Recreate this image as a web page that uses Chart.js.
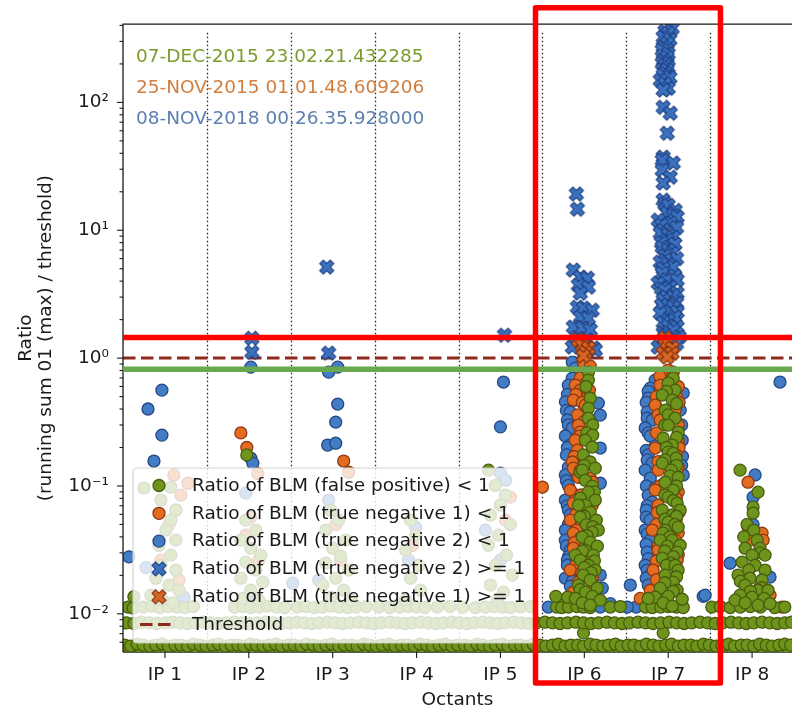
<!DOCTYPE html>
<html>
<head>
<meta charset="utf-8">
<title>BLM ratio per octant</title>
<script src="https://cdn.jsdelivr.net/npm/chart.js@4.4.1/dist/chart.umd.min.js"></script>
<style>
  html, body { margin: 0; padding: 0; background: #fff; }
  #chartParent { width: 792px; height: 710px; overflow: hidden; }
</style>
</head>
<body>
<div id="chartParent"><canvas id="chart1" width="792" height="710"></canvas></div>
<script>
// axes
const xRange = [0, 7.976];
const yRange = [0.00503, 409];
const xTickValues = [0.5, 1.5, 2.5, 3.5, 4.5, 5.5, 6.5, 7.5];
const xTickLabels = ['IP 1', 'IP 2', 'IP 3', 'IP 4', 'IP 5', 'IP 6', 'IP 7', 'IP 8'];
const octantEdges = [1, 2, 3, 4, 5, 6, 7];
const yMajorTicks = [0.01, 0.1, 1, 10, 100];
const yTickLabels = ['10⁻²', '10⁻¹', '10⁰', '10¹', '10²'];
const yMinorTicks = [0.006, 0.007, 0.008, 0.009,
    0.02, 0.03, 0.04, 0.05, 0.06, 0.07, 0.08, 0.09,
    0.2, 0.3, 0.4, 0.5, 0.6, 0.7, 0.8, 0.9,
    2, 3, 4, 5, 6, 7, 8, 9,
    20, 30, 40, 50, 60, 70, 80, 90,
    200, 300, 400];
const thresholdValue = 1;
const eventLabels = ['07-DEC-2015 23.02.21.432285', '25-NOV-2015 01.01.48.609206', '08-NOV-2018 00.26.35.928000'];
const seriesLabels = ['Ratio of BLM (false positive) < 1', 'Ratio of BLM (true negative 1) < 1',
    'Ratio of BLM (true negative 2) < 1', 'Ratio of BLM (true negative 2) >= 1',
    'Ratio of BLM (true negative 1) >= 1', 'Threshold'];

// false positive < 1 (green)
const fpFloorRow = [[0.02,.0057],[0.09,.0056],[0.17,.0058],[0.24,.0057],[0.32,.0056],[0.39,.0057],[0.47,.0058],[0.54,.0056],[0.62,.0057],[0.69,.0057],[0.77,.0056],[0.84,.0058],[0.92,.0057],[0.99,.0056],[1.07,.0057],[1.14,.0058],[1.22,.0056],[1.29,.0057],[1.37,.0057],[1.44,.0056],[1.52,.0058],[1.59,.0057],[1.67,.0056],[1.74,.0057],[1.82,.0058],[1.89,.0056],[1.97,.0057],[2.04,.0057],[2.12,.0056],[2.19,.0058],[2.27,.0057],[2.34,.0056],[2.42,.0057],[2.49,.0058],[2.57,.0056],[2.64,.0057],[2.72,.0057],[2.79,.0056],[2.87,.0058],[2.94,.0057],[3.02,.0056],[3.09,.0057],[3.17,.0058],[3.24,.0056],[3.32,.0057],[3.39,.0057],[3.47,.0056],[3.54,.0058],[3.62,.0057],[3.69,.0056],[3.77,.0057],[3.84,.0058],[3.92,.0056],[3.99,.0057],[4.07,.0057],[4.14,.0056],[4.22,.0058],[4.29,.0057],[4.37,.0056],[4.44,.0057],[4.52,.0058],[4.59,.0056],[4.67,.0057],[4.74,.0057],[4.82,.0056],[4.89,.0058],[4.97,.0057],[5.04,.0056],[5.12,.0057],[5.19,.0058],[5.27,.0056],[5.34,.0057],[5.42,.0057],[5.49,.0056],[5.57,.0058],[5.64,.0057],[5.72,.0056],[5.79,.0057],[5.87,.0058],[5.94,.0056],[6.02,.0057],[6.09,.0057],[6.17,.0056],[6.24,.0058],[6.32,.0057],[6.39,.0056],[6.47,.0057],[6.54,.0058],[6.62,.0056],[6.69,.0057],[6.77,.0057],[6.84,.0056],[6.92,.0058],[6.99,.0057],[7.07,.0056],[7.14,.0057],[7.22,.0058],[7.29,.0056],[7.37,.0057],[7.44,.0057],[7.52,.0056],[7.59,.0058],[7.67,.0057],[7.74,.0056],[7.82,.0057],[7.89,.0058],[7.96,.0057],
    [5.49,.0071],[6.44,.0071]];
const fpFloorRow2 = [[0.05,.0055],[0.13,.0054],[0.2,.0055],[0.28,.0054],[0.35,.0055],[0.43,.0054],[0.5,.0055],[0.58,.0054],[0.65,.0055],[0.73,.0054],[0.8,.0055],[0.88,.0054],[0.95,.0055],[1.03,.0054],[1.1,.0055],[1.18,.0054],[1.25,.0055],[1.33,.0054],[1.4,.0055],[1.48,.0054],[1.55,.0055],[1.63,.0054],[1.7,.0055],[1.78,.0054],[1.85,.0055],[1.93,.0054],[2.0,.0055],[2.08,.0054],[2.15,.0055],[2.23,.0054],[2.3,.0055],[2.38,.0054],[2.45,.0055],[2.53,.0054],[2.6,.0055],[2.68,.0054],[2.75,.0055],[2.83,.0054],[2.9,.0055],[2.98,.0054],[3.05,.0055],[3.13,.0054],[3.2,.0055],[3.28,.0054],[3.35,.0055],[3.43,.0054],[3.5,.0055],[3.58,.0054],[3.65,.0055],[3.73,.0054],[3.8,.0055],[3.88,.0054],[3.95,.0055],[4.03,.0054],[4.1,.0055],[4.18,.0054],[4.25,.0055],[4.33,.0054],[4.4,.0055],[4.48,.0054],[4.55,.0055],[4.63,.0054],[4.7,.0055],[4.78,.0054],[4.85,.0055],[4.93,.0054],[5.0,.0055],[5.08,.0054],[5.15,.0055],[5.23,.0054],[5.3,.0055],[5.38,.0054],[5.45,.0055],[5.53,.0054],[5.6,.0055],[5.68,.0054],[5.75,.0055],[5.83,.0054],[5.9,.0055],[5.98,.0054],[6.05,.0055],[6.13,.0054],[6.2,.0055],[6.28,.0054],[6.35,.0055],[6.43,.0054],[6.5,.0055],[6.58,.0054],[6.65,.0055],[6.73,.0054],[6.8,.0055],[6.88,.0054],[6.95,.0055],[7.03,.0054],[7.1,.0055],[7.18,.0054],[7.25,.0055],[7.33,.0054],[7.4,.0055],[7.48,.0054],[7.55,.0055],[7.63,.0054],[7.7,.0055],[7.78,.0054],[7.85,.0055],[7.93,.0054]];
const fpLowRow = [[0.04,.0085],[0.13,.0084],[0.22,.0086],[0.31,.0085],[0.4,.0084],[0.5,.0085],[0.59,.0086],[0.68,.0085],[0.77,.0084],[0.86,.0085],[0.96,.0086],[1.05,.0085],[1.14,.0084],[1.23,.0085],[1.33,.0086],[1.42,.0085],[1.51,.0084],[1.6,.0085],[1.7,.0086],[1.79,.0085],[1.88,.0084],[1.97,.0085],[2.07,.0086],[2.16,.0085],[2.25,.0084],[2.34,.0085],[2.44,.0086],[2.53,.0085],[2.62,.0084],[2.71,.0085],[2.81,.0086],[2.9,.0085],[2.99,.0084],[3.08,.0085],[3.18,.0086],[3.27,.0085],[3.36,.0084],[3.45,.0085],[3.55,.0086],[3.64,.0085],[3.73,.0084],[3.82,.0085],[3.92,.0086],[4.01,.0085],[4.1,.0084],[4.19,.0085],[4.29,.0086],[4.38,.0085],[4.47,.0084],[4.56,.0085],[4.66,.0086],[4.75,.0085],[4.84,.0084],[4.93,.0085],[5.03,.0086],[5.12,.0085],[5.21,.0084],[5.3,.0085],[5.4,.0086],[5.49,.0085],[5.58,.0084],[5.67,.0085],[5.77,.0086],[5.86,.0085],[5.95,.0084],[6.04,.0085],[6.14,.0086],[6.23,.0085],[6.32,.0084],[6.41,.0085],[6.51,.0086],[6.6,.0085],[6.69,.0084],[6.78,.0085],[6.88,.0086],[6.97,.0085],[7.06,.0084],[7.15,.0085],[7.25,.0086],[7.34,.0085],[7.43,.0084],[7.52,.0085],[7.62,.0086],[7.71,.0085],[7.8,.0084],[7.89,.0085],[7.97,.0086]];
const fpMidRow = [[0.06,.0113],[0.12,.0111],[0.13,.0136],[0.24,.0113],[0.34,.0115],[0.44,.0112],[0.54,.0114],[0.64,.0113],[0.74,.0112],[0.84,.0114],
    [1.33,.0113],[1.43,.0114],[1.52,.0112],[1.62,.0113],[1.72,.0115],[1.83,.0113],[1.93,.0112],[2.08,.0113],[2.18,.0114],[2.28,.0112],[2.38,.0113],[2.48,.0115],[2.58,.0113],[2.68,.0112],[2.78,.0113],[2.9,.0114],[3.05,.0113],[3.18,.0112],[3.3,.0113],[3.4,.0114],[3.5,.0113],[3.6,.0112],[3.75,.0113],[3.9,.0114],[4.05,.0113],[4.2,.0112],[4.32,.0113],[4.42,.0114],[4.52,.0113],[4.62,.0112],[4.74,.0113],[4.86,.0114],
    [5.17,.0113],[5.23,.0112],[5.31,.0113],[5.41,.0114],[5.49,.0113],[5.57,.0112],[5.81,.0113],[5.93,.0114],[6.23,.0113],[6.31,.0112],[6.41,.0113],[6.5,.0114],[6.6,.0113],[6.68,.0112],
    [7.02,.0113],[7.12,.0114],[7.24,.0112],[7.36,.0113],[7.48,.0114],[7.6,.0113],[7.77,.0112],[7.89,.0113],
    [5.16,.0137],[5.3,.0135],[5.43,.0137],[5.63,.0135]];
const fpClusters = [
    // IP 1 - IP 5
    [0.25,.0963],[0.571,.0981],[0.452,.0776],[0.631,.0648],[0.571,.0541],[0.512,.0452],[0.631,.0377],[0.429,.0344],[0.571,.0288],[0.452,.024],[0.631,.022],[0.393,.019],[0.548,.0168],[0.667,.0153],[0.333,.014],[0.476,.0128],[0.595,.0122],
    [1.476,.175],[1.464,.0541],[1.583,.0452],[1.405,.0377],[1.524,.0326],[1.643,.0288],[1.464,.0254],[1.583,.022],[1.405,.019],[1.667,.0177],[1.524,.0153],[1.43,.0132],[1.619,.0128],
    [2.476,.0648],[2.571,.0541],[2.417,.0452],[2.655,.0377],[2.5,.0326],[2.595,.0283],[2.417,.0249],[2.69,.022],[2.536,.019],[2.381,.0168],[2.631,.0153],[2.476,.0135],[2.714,.0128],
    [3.429,.0541],[3.488,.0413],[3.369,.0315],[3.524,.024],[3.429,.019],[3.548,.0153],[3.369,.0128],
    [4.357,.133],[4.44,.101],[4.56,.0848],[4.5,.0709],[4.381,.0593],[4.619,.0499],[4.476,.0413],[4.357,.0344],[4.571,.0288],[4.44,.024],[4.643,.0201],[4.381,.0168],[4.536,.0148],[4.464,.0128],
    // IP 6
    [5.548,.777],[5.548,.673],[5.52,.6],[5.571,.487],[5.548,.407],[5.548,.339],[5.6,.3],[5.53,.26],[5.6,.25],[5.512,.228],[5.595,.2015],[5.488,.175],[5.571,.154],[5.5,.145],[5.631,.138],[5.452,.128],[5.476,.133],[5.512,.111],[5.595,.0998],[5.62,.09],[5.548,.0895],[5.452,.0803],[5.631,.0776],[5.512,.0709],[5.429,.0709],[5.571,.0625],[5.5,.058],[5.452,.0572],[5.643,.0541],[5.524,.0499],[5.6,.048],[5.667,.0452],[5.595,.0436],[5.53,.041],[5.476,.0398],[5.571,.0364],[5.655,.0338],[5.512,.0315],[5.48,.031],[5.607,.0288],[5.393,.0288],[5.452,.0263],[5.62,.026],[5.548,.024],[5.5,.023],[5.631,.022],[5.58,.021],[5.488,.0201],[5.571,.0184],[5.429,.0168],[5.655,.0159],[5.45,.0155],[5.512,.0148],[5.595,.0137],[5.393,.0132],[5.69,.0128],[5.476,.0122],[5.571,.0117],
    // IP 7
    [6.56,.7],[6.5,.638],[6.583,.562],[6.48,.55],[6.429,.514],[6.548,.47],[6.6,.44],[6.464,.392],[6.5,.36],[6.583,.339],[6.46,.3],[6.5,.299],[6.619,.264],[6.6,.24],[6.44,.237],[6.548,.209],[6.48,.2],[6.5,.184],[6.56,.18],[6.595,.165],[6.46,.16],[6.429,.151],[6.6,.145],[6.536,.133],[6.52,.12],[6.619,.117],[6.464,.107],[6.6,.1],[6.56,.0929],[6.46,.085],[6.5,.0818],[6.56,.077],[6.607,.0735],[6.429,.0648],[6.643,.0648],[6.548,.0593],[6.6,.058],[6.46,.055],[6.5,.0522],[6.58,.05],[6.619,.0477],[6.464,.0452],[6.44,.0428],[6.52,.04],[6.548,.0377],[6.405,.0377],[6.643,.0344],[6.488,.0338],[6.46,.031],[6.607,.0304],[6.56,.028],[6.429,.0273],[6.536,.0249],[6.48,.024],[6.583,.024],[6.619,.022],[6.464,.0201],[6.6,.0195],[6.56,.0177],[6.46,.0175],[6.405,.0159],[6.607,.0153],[6.56,.015],[6.5,.0137],[6.345,.0135],[6.262,.0132],[6.667,.013],[6.44,.0122],[6.548,.0115],
    // IP 8
    [7.357,.133],[7.571,.0895],[7.512,.0684],[7.512,.0614],[7.44,.05],[7.52,.045],[7.4,.04],[7.56,.0377],[7.417,.0326],[7.595,.0326],[7.6,.03],[7.5,.0288],[7.655,.0288],[7.381,.0254],[7.536,.024],[7.46,.022],[7.655,.022],[7.333,.0201],[7.476,.019],[7.619,.0184],[7.36,.018],[7.417,.0168],[7.62,.016],[7.571,.0153],[7.69,.0153],[7.48,.015],[7.357,.014],[7.5,.0135],[7.643,.0132],[7.298,.0128],[7.417,.0122],[7.571,.0117],[7.714,.012]];

// true negative 1 < 1 (orange)
const tn1Below = [
    [0.607,.122],[0.774,.105],[0.69,.0848],[0.548,.0499],[0.452,.0263],[0.667,.0184],
    [1.405,.26],[1.476,.2],[1.607,.125],[1.524,.0572],[1.464,.0413],[1.619,.0263],
    [2.631,.1566],[2.69,.128],[2.536,.0499],[2.595,.0263],
    [3.452,.0344],[4.619,.0818],[4.56,.0541],[5.0,.0981],
    [5.488,.93],[5.571,.866],[5.452,.7],[5.5,.62],[5.393,.615],[5.452,.562],[5.548,.514],[5.56,.56],[5.4,.52],[5.369,.47],[5.476,.45],[5.512,.429],[5.42,.36],[5.5,.32],[5.429,.299],[5.452,.264],[5.44,.245],[5.393,.228],[5.417,.191],[5.38,.17],[5.357,.154],[5.369,.138],[5.452,.133],[5.43,.117],[5.571,.115],[5.595,.107],[5.333,.0929],[5.46,.085],[5.393,.0776],[5.369,.0735],[5.595,.0709],[5.4,.06],[5.333,.0541],[5.45,.048],[5.405,.0452],[5.369,.0428],[5.452,.0391],[5.38,.036],[5.369,.0326],[5.46,.03],[5.571,.0263],[5.4,.024],[5.333,.022],[5.47,.021],[5.595,.019],[5.429,.0177],[5.595,.0159],[5.369,.0148],[5.512,.0132],[5.274,.0128],
    [6.5,.806],[6.56,.777],[6.4,.72],[6.548,.698],[6.405,.615],[6.62,.6],[6.595,.514],[6.36,.5],[6.63,.45],[6.345,.429],[6.583,.392],[6.38,.36],[6.405,.328],[6.62,.3],[6.36,.26],[6.619,.228],[6.63,.2],[6.345,.198],[6.595,.175],[6.38,.155],[6.62,.14],[6.381,.133],[6.524,.111],[6.4,.1],[6.345,.0929],[6.62,.09],[6.595,.0803],[6.381,.0709],[6.37,.062],[6.63,.062],[6.595,.0541],[6.36,.05],[6.31,.0452],[6.62,.043],[6.583,.0377],[6.38,.034],[6.381,.0315],[6.62,.029],[6.607,.0263],[6.36,.026],[6.6,.023],[6.321,.022],[6.571,.019],[6.36,.0185],[6.286,.0153],[6.405,.0135],[6.167,.0132],
    [7.452,.107],[7.452,.0477],[7.619,.0428],[7.476,.0377],[7.631,.0377],[7.595,.0162],[7.714,.014],[7.857,.0113]];

// true negative 2 < 1 (blue)
const tn2Below = [
    [0.464,.562],[0.298,.4],[0.464,.25],[0.369,.1566],[0.071,.0279],[0.631,.0648],[0.274,.023],[0.726,.0135],
    [1.524,.85],[1.524,.165],[1.548,.151],[1.464,.0879],[1.548,.0128],[2.024,.0174],
    [2.452,.777],[2.56,.85],[2.56,.437],[2.536,.316],[2.44,.209],[2.536,.216],[2.452,.0776],[2.333,.0184],
    [3.488,.0477],[3.405,.0263],
    [4.536,.65],[4.5,.29],[4.5,.126],[4.56,.111],[4.321,.0452],[4.5,.0263],
    [5.357,.93],[5.393,.835],[5.357,.698],[5.31,.615],[5.298,.52],[5.393,.47],[5.274,.455],[5.286,.39],[5.333,.378],[5.667,.445],[5.69,.358],[5.298,.328],[5.31,.3],[5.357,.284],[5.274,.246],[5.69,.198],[5.333,.209],[5.298,.2],[5.286,.175],[5.393,.146],[5.31,.14],[5.274,.122],[5.286,.11],[5.31,.101],[5.69,.105],[5.357,.0879],[5.274,.0776],[5.298,.07],[5.31,.0648],[5.333,.0593],[5.393,.0522],[5.31,.05],[5.274,.0452],[5.274,.0377],[5.286,.034],[5.333,.0315],[5.31,.028],[5.298,.0263],[5.298,.024],[5.357,.022],[5.274,.019],[5.357,.018],[5.333,.0165],[5.69,.0201],[5.714,.0159],[5.071,.0113],[5.69,.0113],[5.81,.012],
    [6.345,.673],[6.405,.698],[6.286,.583],[6.262,.55],[6.679,.533],[6.262,.487],[6.238,.45],[6.345,.429],[6.25,.378],[6.643,.392],[6.25,.34],[6.31,.328],[6.66,.3],[6.226,.284],[6.262,.26],[6.286,.246],[6.667,.228],[6.345,.205],[6.238,.19],[6.262,.175],[6.67,.17],[6.25,.16],[6.31,.151],[6.66,.145],[6.226,.133],[6.286,.115],[6.679,.122],[6.24,.1],[6.345,.0963],[6.262,.0848],[6.31,.0748],[6.25,.07],[6.238,.0648],[6.238,.057],[6.286,.0541],[6.226,.0452],[6.25,.042],[6.286,.0377],[6.238,.035],[6.25,.0304],[6.262,.027],[6.226,.024],[6.25,.022],[6.286,.0201],[6.238,.019],[6.262,.0168],[6.048,.0168],[6.119,.0113],[6.012,.0113],[6.917,.0137],
    [7.833,.65],[7.536,.122],[7.512,.0818],[7.512,.0499],[7.238,.0249],[7.714,.0194],[6.94,.014],[7.417,.0135],[7.333,.0128]];

// true negative 2 >= 1 (blue crosses)
const tn2Above = [
    [1.536,1.43],[1.536,1.11],[2.429,5.15],[2.452,1.094],[4.548,1.51],
    [5.405,19.2],[5.417,14.6],[5.369,4.88],[5.452,4.3],[5.536,4.22],[5.429,3.72],[5.548,3.59],[5.452,3.22],[5.417,2.5],[5.488,2.46],[5.595,2.37],[5.452,2.09],[5.548,2.05],[5.369,1.75],[5.476,1.72],[5.571,1.66],[5.417,1.43],[5.536,1.38],[5.393,1.31],[5.357,1.22],[5.607,1.2],[5.488,1.155],[5.631,1.155],
    [6.548,380],[6.46,360],[6.5,348],[6.44,324],[6.52,310],[6.488,290],[6.44,270],[6.429,256],[6.5,240],[6.488,225],[6.44,212],[6.429,202],[6.464,195],[6.5,188],[6.488,179],[6.46,170],[6.44,163],[6.52,156],[6.405,149],[6.46,140],[6.5,129],[6.44,125],[6.44,91.6],[6.524,82.3],[6.488,57.4],[6.44,37.3],[6.429,35.3],[6.56,33.5],[6.429,29.5],[6.524,26],[6.44,23.4],[6.44,17.2],[6.46,16],[6.5,15.7],[6.583,14.3],[6.488,13.6],[6.56,13],[6.607,12.7],[6.381,12],[6.524,11.4],[6.42,11],[6.6,10.5],[6.44,10],[6.405,9.49],[6.5,9.2],[6.56,8.84],[6.488,8.37],[6.42,8],[6.58,7.8],[6.429,7.38],[6.5,6.99],[6.548,6.62],[6.46,6.3],[6.6,6],[6.464,5.84],[6.405,5.63],[6.5,5.4],[6.56,5.15],[6.44,5],[6.429,4.62],[6.58,4.4],[6.48,4.1],[6.607,4.07],[6.381,3.86],[6.524,3.59],[6.42,3.5],[6.464,3.4],[6.607,3.22],[6.56,3.1],[6.48,3],[6.44,2.84],[6.6,2.7],[6.42,2.6],[6.5,2.6],[6.56,2.5],[6.52,2.3],[6.607,2.29],[6.405,2.25],[6.58,2.1],[6.5,1.98],[6.44,1.9],[6.5,1.78],[6.607,1.75],[6.56,1.65],[6.44,1.57],[6.46,1.5],[6.631,1.46],[6.548,1.38],[6.42,1.35],[6.6,1.3],[6.381,1.22]];

// true negative 1 >= 1 (orange crosses)
const tn1Above = [[5.429,1.38],[5.476,1.26],[5.548,1.2],[5.512,1.11],[5.488,1.04],
    [6.464,1.43],[6.488,1.33],[6.548,1.2],[6.44,1.094],[6.548,1.094],[6.488,1.018]];

// highlight overlays drawn on top of the figure
const highlightBox = { x: [4.918, 7.123], y: [0.00288, 550] };
const highlightRed = 1.45;
const highlightGreen = 0.82;

const FONT = "'DejaVu Sans', 'Liberation Sans', sans-serif";
const colors = {
    green: 'rgb(110,148,28)', greenEdge: 'rgb(72,94,14)',
    orange: 'rgb(226,108,32)', orangeEdge: 'rgb(145,55,18)',
    blue: 'rgb(66,124,196)', blueEdge: 'rgb(38,72,132)',
    threshold: 'rgb(140,42,30)'
};

function crossMarker(fill, edge) {
    const c = document.createElement('canvas');
    c.width = 18; c.height = 18;
    const g = c.getContext('2d');
    g.translate(9, 9);
    g.rotate(Math.PI / 4);
    const L = 7.4, w = 2.5;
    g.beginPath();
    g.moveTo(-w, -L); g.lineTo(w, -L); g.lineTo(w, -w); g.lineTo(L, -w); g.lineTo(L, w); g.lineTo(w, w);
    g.lineTo(w, L); g.lineTo(-w, L); g.lineTo(-w, w); g.lineTo(-L, w); g.lineTo(-L, -w); g.lineTo(-w, -w);
    g.closePath();
    g.fillStyle = fill; g.fill();
    g.lineWidth = 1.1; g.strokeStyle = edge; g.stroke();
    return c;
}
const blueCross = crossMarker('rgb(58,114,192)', 'rgb(34,66,130)');
const orangeCross = crossMarker('rgb(214,102,34)', 'rgb(135,48,18)');

const toXY = arr => arr.map(([x, y]) => ({ x, y }));

function circleSet(label, data, fill, edge, order) {
    return {
        label, data: toXY(data), order,
        pointStyle: 'circle', pointRadius: 6, pointHoverRadius: 6,
        pointBackgroundColor: fill, pointBorderColor: edge, pointBorderWidth: 1.3
    };
}
function crossSet(label, data, marker, order) {
    return { label, data: toXY(data), order, pointStyle: marker, pointRadius: 7, pointHoverRadius: 7 };
}

const datasets = [
    circleSet(seriesLabels[0], [...fpFloorRow2, ...fpFloorRow, ...fpLowRow, ...fpMidRow, ...fpClusters], colors.green, colors.greenEdge, 2),
    circleSet(seriesLabels[1], tn1Below, colors.orange, colors.orangeEdge, 3),
    circleSet(seriesLabels[2], tn2Below, colors.blue, colors.blueEdge, 4),
    crossSet(seriesLabels[3], tn2Above, blueCross, 1),
    crossSet(seriesLabels[4], tn1Above, orangeCross, 0),
    {
        type: 'line', label: seriesLabels[5], order: 5, showLine: true,
        data: [{ x: xRange[0], y: thresholdValue }, { x: xRange[1], y: thresholdValue }],
        borderColor: colors.threshold, borderWidth: 3, borderDash: [12.5, 5.5], pointRadius: 0, fill: false
    }
];

// frame, ticks, separators, date labels, legend, highlight overlays
const decorations = {
    id: 'decorations',
    beforeDatasetsDraw(chart) {
        const { ctx, chartArea: a, scales: { x, y } } = chart;
        ctx.save();
        ctx.strokeStyle = '#222';
        ctx.lineWidth = 1.3;
        ctx.setLineDash([1.4, 2.6]);
        const top = y.getPixelForValue(350);
        octantEdges.forEach(e => {
            const px = Math.round(x.getPixelForValue(e)) + 0.5;
            ctx.beginPath(); ctx.moveTo(px, top); ctx.lineTo(px, a.bottom); ctx.stroke();
        });
        ctx.setLineDash([]);
        ctx.beginPath(); ctx.moveTo(a.left, a.bottom); ctx.lineTo(a.right, a.bottom); ctx.stroke();
        ctx.restore();
    },
    afterDatasetsDraw(chart) {
        const { ctx, chartArea: a, scales: { x, y } } = chart;
        ctx.save();
        // spines
        ctx.strokeStyle = '#1a1a1a';
        ctx.lineWidth = 1.3;
        ctx.beginPath();
        ctx.moveTo(a.left, a.bottom); ctx.lineTo(a.left, a.top); ctx.lineTo(a.right, a.top);
        ctx.stroke();
        // ticks
        ctx.lineWidth = 1.1;
        y.ticks.forEach(t => {
            const py = y.getPixelForValue(t.value);
            const len = yMajorTicks.includes(t.value) ? 6 : 3.5;
            ctx.beginPath(); ctx.moveTo(a.left, py); ctx.lineTo(a.left - len, py); ctx.stroke();
        });
        xTickValues.forEach(v => {
            const px = x.getPixelForValue(v);
            ctx.beginPath(); ctx.moveTo(px, a.bottom); ctx.lineTo(px, a.bottom + 6); ctx.stroke();
        });
        // event labels
        ctx.font = '18.5px ' + FONT;
        ctx.textBaseline = 'middle';
        ctx.textAlign = 'left';
        const eventColors = ['rgb(124,156,44)', 'rgb(210,126,62)', 'rgb(92,128,176)'];
        eventLabels.forEach((txt, i) => {
            ctx.fillStyle = eventColors[i];
            ctx.fillText(txt, a.left + 13, a.top + 33.5 + i * 31);
        });
        // legend
        const bx = a.left + 10, by = a.bottom - 184, bw = 402, bh = 175;
        ctx.beginPath();
        ctx.roundRect(bx, by, bw, bh, 4);
        ctx.fillStyle = 'rgba(255,255,255,0.8)';
        ctx.fill();
        ctx.strokeStyle = 'rgba(205,205,205,0.9)';
        ctx.lineWidth = 1.2;
        ctx.stroke();
        const mx = bx + 26, tx = bx + 59;
        datasets.forEach((ds, i) => {
            const cy = by + 17.5 + i * 27.8;
            if (ds.type === 'line') {
                ctx.strokeStyle = ds.borderColor;
                ctx.lineWidth = 3;
                ctx.setLineDash([12.5, 5.5]);
                ctx.beginPath(); ctx.moveTo(mx - 19, cy); ctx.lineTo(mx + 16, cy); ctx.stroke();
                ctx.setLineDash([]);
            } else if (ds.pointStyle === 'circle') {
                ctx.beginPath(); ctx.arc(mx, cy, 6, 0, Math.PI * 2);
                ctx.fillStyle = ds.pointBackgroundColor; ctx.fill();
                ctx.lineWidth = 1.3; ctx.strokeStyle = ds.pointBorderColor; ctx.stroke();
            } else {
                ctx.drawImage(ds.pointStyle, mx - 9, cy - 9);
            }
            ctx.fillStyle = '#1a1a1a';
            ctx.fillText(ds.label, tx, cy + 0.5);
        });
        ctx.restore();
    },
    afterDraw(chart) {
        const { ctx, chartArea: a, scales: { x, y } } = chart;
        ctx.save();
        ctx.lineWidth = 5.5;
        ctx.strokeStyle = 'rgb(106,168,79)';
        let py = y.getPixelForValue(highlightGreen);
        ctx.beginPath(); ctx.moveTo(a.left, py); ctx.lineTo(chart.width, py); ctx.stroke();
        ctx.strokeStyle = 'rgb(255,0,0)';
        py = y.getPixelForValue(highlightRed);
        ctx.beginPath(); ctx.moveTo(a.left, py); ctx.lineTo(chart.width, py); ctx.stroke();
        const x0 = x.getPixelForValue(highlightBox.x[0]), x1 = x.getPixelForValue(highlightBox.x[1]);
        const y0 = y.getPixelForValue(highlightBox.y[1]), y1 = y.getPixelForValue(highlightBox.y[0]);
        ctx.lineJoin = 'round';
        ctx.strokeRect(x0, y0, x1 - x0, y1 - y0);
        ctx.restore();
    }
};

Chart.defaults.font.family = FONT;
Chart.defaults.font.size = 18.5;
Chart.defaults.color = '#1a1a1a';

new Chart(document.getElementById('chart1'), {
    type: 'scatter',
    data: { datasets },
    options: {
        responsive: false,
        animation: false,
        events: [],
        layout: { padding: { left: 0, top: 24, right: 0, bottom: 0 }, autoPadding: false },
        plugins: { legend: { display: false }, tooltip: { enabled: false } },
        scales: {
            x: {
                type: 'linear', min: xRange[0], max: xRange[1], bounds: 'data',
                grid: { display: false, drawTicks: false },
                border: { display: false },
                afterBuildTicks: scale => { scale.ticks = xTickValues.map(v => ({ value: v })); },
                afterFit: scale => { scale.height = 58; },
                ticks: {
                    autoSkip: false, maxRotation: 0, padding: 13,
                    font: { size: 18.5, lineHeight: 1.1 },
                    callback: (v, i) => xTickLabels[i]
                },
                title: { display: true, text: 'Octants', font: { size: 18.5, lineHeight: 1.1 }, padding: { top: 0, bottom: 0 } }
            },
            y: {
                type: 'logarithmic', min: yRange[0], max: yRange[1], bounds: 'data',
                grid: { display: false, drawTicks: false },
                border: { display: false },
                afterBuildTicks: scale => {
                    scale.ticks = [...yMinorTicks, ...yMajorTicks].sort((p, q) => p - q).map(v => ({ value: v }));
                },
                afterFit: scale => { scale.width = 123; },
                ticks: {
                    autoSkip: false, padding: 14,
                    font: { size: 18.5, lineHeight: 1.1 },
                    callback: v => {
                        const i = yMajorTicks.indexOf(v);
                        return i >= 0 ? yTickLabels[i] : '';
                    }
                },
                title: {
                    display: true, text: ['Ratio', '(running sum 01 (max) / threshold)'],
                    font: { size: 18.5, lineHeight: 1.1 }, padding: { top: 15.8, bottom: 0 }
                }
            }
        }
    },
    plugins: [decorations]
});
</script>
</body>
</html>
